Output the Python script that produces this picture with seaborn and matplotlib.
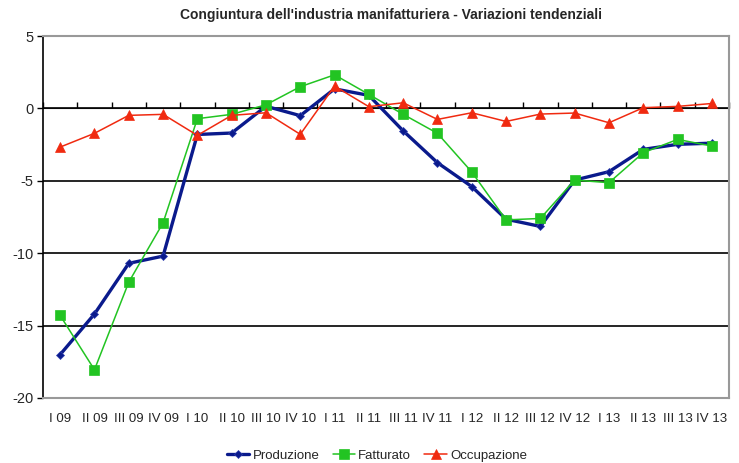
import matplotlib
matplotlib.use("Agg")
import matplotlib.pyplot as plt
import seaborn as sns
import pandas as pd
import numpy as np

categories = ["I 09", "II 09", "III 09", "IV 09", "I 10", "II 10", "III 10", "IV 10",
              "I 11", "II 11", "III 11", "IV 11", "I 12", "II 12", "III 12", "IV 12",
              "I 13", "II 13", "III 13", "IV 13"]
produzione = [-17.0, -14.2, -10.7, -10.2, -1.8, -1.7, 0.15, -0.5, 1.35, 0.9,
              -1.55, -3.75, -5.4, -7.65, -8.15, -4.95, -4.37, -2.83, -2.48, -2.4]
fatturato = [-14.3, -18.05, -12.0, -7.9, -0.71, -0.41, 0.25, 1.5, 2.32, 0.97,
             -0.41, -1.72, -4.39, -7.7, -7.6, -4.95, -5.13, -3.06, -2.14, -2.6]
occupazione = [-2.67, -1.72, -0.48, -0.41, -1.86, -0.48, -0.3, -1.79, 1.54, 0.12,
               0.39, -0.76, -0.3, -0.9, -0.39, -0.32, -0.99, 0.05, 0.14, 0.34]
yticks = [5, 0, -5, -10, -15, -20]
title = "Congiuntura dell'industria manifatturiera - Variazioni tendenziali"

sns.set_style("white")
plt.rcParams["font.family"] = ["Liberation Sans", "DejaVu Sans"]

idx = np.arange(len(categories))
df = pd.DataFrame({"x": np.tile(idx, 3),
                   "value": produzione + fatturato + occupazione,
                   "serie": ["Produzione"] * 20 + ["Fatturato"] * 20 + ["Occupazione"] * 20})

fig = plt.figure(figsize=(7.39, 4.63), dpi=100)
ax = fig.add_axes([0.0582, 0.1404, 0.9283, 0.7818])

# gridlines
for v in [0, -5, -10, -15]:
    ax.axhline(v, color="black", lw=1.2, zorder=1)

styles = {
    "Produzione": dict(color="#0a1a8c", lw=2.4, marker="D", ms=4.5, mec="#3040b0"),
    "Fatturato": dict(color="#22c422", lw=1.1, marker="s", ms=7, mec="#22c422"),
    "Occupazione": dict(color="#f02a10", lw=1.1, marker="^", ms=7, mec="#f02a10"),
}
for name in ["Produzione", "Fatturato", "Occupazione"]:
    st = styles[name]
    sub = df[df["serie"] == name]
    sns.lineplot(data=sub, x="x", y="value", ax=ax, color=st["color"], lw=st["lw"],
                 marker=st["marker"], markersize=st["ms"], markeredgecolor=st["mec"],
                 markeredgewidth=0.5, label=name, zorder=3)

ax.set_xlim(-0.5, len(categories) - 0.5)
ax.set_ylim(-20, 5)
ax.set_yticks(yticks)
ax.set_yticklabels([str(t) for t in yticks], fontsize=10.5)
ax.set_xticks(idx)
ax.set_xticklabels(categories, fontsize=9.5)
ax.tick_params(axis="x", length=0, pad=11)
ax.tick_params(axis="y", length=4, width=1, color="black", direction="out", pad=3, left=True)
ax.set_xlabel("")
ax.set_ylabel("")

ax.spines["left"].set_color("black")
ax.spines["left"].set_linewidth(1.2)
for s in ["top", "right", "bottom"]:
    ax.spines[s].set_color("#999999")
    ax.spines[s].set_linewidth(1.5)

# category tick marks on zero line
sec = ax.secondary_xaxis(20 / 25)
sec.set_xticks(np.arange(len(categories) + 1) - 0.5)
sec.set_xticklabels([])
sec.tick_params(length=4, width=1, color="black", direction="out")
sec.spines["bottom"].set_visible(False)

ax.legend_.remove()
handles, labels = ax.get_legend_handles_labels()
fig.legend(handles, labels, loc="center", bbox_to_anchor=(0.51, 0.016), ncol=3, frameon=False,
           fontsize=9.5, handlelength=1.7, handletextpad=0.25, columnspacing=1.0,
           borderaxespad=0)

fig.text(0.529, 0.967, title, ha="center", va="center", fontsize=10, fontweight="bold")

fig.savefig("out.png", dpi=100)
